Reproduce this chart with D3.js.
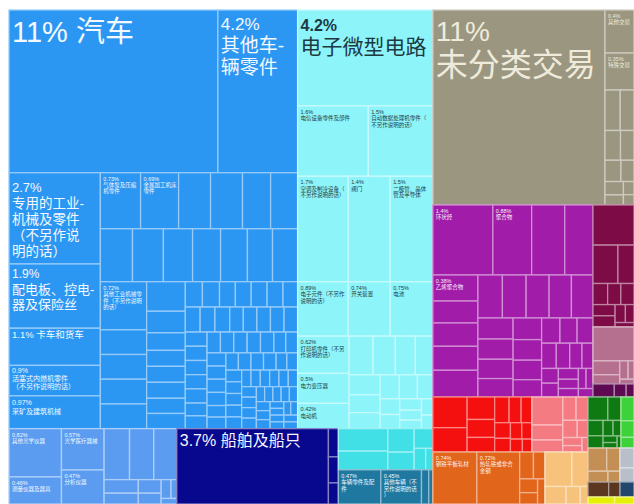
<!DOCTYPE html>
<html><head><meta charset="utf-8">
<script src="https://cdn.jsdelivr.net/npm/d3@7"></script>
<style>html,body{margin:0;padding:0;background:#fff;}svg{display:block;}</style>
</head><body>
<script>
// ---------- data: share of exports (%) ----------
const autoTop   = [["汽车", 11], ["其他车辆零件", 4.2]];
const machLeft  = [["专用的工业机械及零件", 2.7], ["配电板、控电器及保险丝", 1.9], ["卡车和货车", 1.1], ["活塞式内燃机零件", 0.9], ["采矿及建筑机械", 0.97]];
const machRowA  = [["气体泵及压缩机零件", 0.73], ["金属加工机床零件", 0.69], 0.58, 0.58, 0.51, 0.49];
const machRowB  = [0.55, 0.53, 0.5, 0.48, 0.46, 0.43, 0.43];
const machCol1  = [["其他工业机械零件（不另作说明的话）", 0.72], 0.37, 0.37, 0.37, 0.37];
const machCol2  = [0.37, 0.27, 0.22, 0.2, 0.2, 0.2, 0.19, 0.19];
const machSmall = [0.14,0.14,0.13,0.13,0.13,0.13,0.12,0.12, 0.12,0.12,0.11,0.11,0.11,0.11,0.11,0.10,
                   0.10,0.10,0.10,0.10,0.09,0.09,0.09,0.09, 0.09,0.09,0.09,0.08,0.08,0.08,0.08,0.08,
                   0.08,0.07,0.07,0.07,0.07,0.07,0.07,0.06, 0.06,0.06,0.06,0.06,0.06,0.06,0.05,0.05,
                   0.05,0.05,0.05,0.05,0.05,0.05,0.05,0.05, 0.04,0.04,0.04,0.04,0.04,0.04,0.04,0.04,
                   0.03,0.03,0.03,0.03,0.03,0.03,0.03,0.03];
const elecTop   = [["电子微型电路", 4.2]];
const elecRow2  = [["电信设备零件及部件", 1.61], ["自动数据处理机零件（不另作说明的话）", 1.47]];
const elecRow3  = [["空调及制冷设备（不另作说明的话）", 1.73], ["阀门", 1.43], ["二极管、晶体管及半导体", 1.46]];
const elecRow4  = [["电子元件（不另作说明的话）", 0.89], ["开关装置", 0.74], ["电池", 0.75]];
const elecRest  = [["打印机零件（不另作说明的话）", 0.62], ["电力变压器", 0.5], ["电动机", 0.42],
                   0.3,0.28,0.25,0.22,0.2,0.18,0.16,0.15,0.14,0.12,0.1,0.09,0.08,0.07,0.06,0.06,0.05];
const optCol1   = [["其他光学仪器", 0.82], ["测量仪器及器具", 0.46]];
const optCol2   = [["光学医疗器械", 0.57], ["分析仪器", 0.47]];
const optRest   = [0.42,0.4,0.38,0.15,0.12,0.1,0.08,0.06,0.035,0.028];
const shipMain  = [["船舶及船只", 3.7]];
const shipSmall = [0.091, 0.084, 0.068];
const turqVals  = [0.36,0.3,0.2,0.15,0.12,0.08,0.05];
const tealVals  = [["车辆零件及配件", 0.47], ["其他车辆（不另作说明的话）", 0.45], 0.08, 0.046];
const unclMain  = [["未分类交易", 10.86]];
const unclCol   = [["其他交易", 0.404], ["特殊交易", 0.348]];
const unclRest  = [0.2,0.18,0.15,0.13,0.11,0.09,0.08,0.06,0.045,0.035];
const chemTop   = [["环状烃", 1.36], ["聚合物", 0.88], 0.75, 0.64];
const chemLeft  = [["乙烯聚合物", 0.38], 0.32, 0.34, 0.35, 0.39];
const chemRest  = [0.34,0.33,0.32,0.31,0.3, 0.24,0.23,0.22,0.21,0.2,0.19,0.18,
                   0.16,0.15,0.14,0.13,0.12,0.11,0.1,0.09, 0.08,0.075,0.07,0.06,0.055,0.05,0.045,0.04];
const maroonVals= [0.533,0.31,0.2,0.1,0.09,0.09,0.08,0.08,0.06,0.05,0.027];
const mauveVals = [0.45,0.12,0.08,0.05,0.035,0.022];
const plumVals  = [0.09,0.05,0.033];
const redVals   = [0.34,0.27,0.2,0.16,0.13,0.12,0.1,0.09,0.08,0.07,0.06,0.054,0.05,0.04];
const salmonVals= [0.28,0.15,0.12,0.1,0.09,0.08,0.06,0.05,0.04,0.028];
const steelVals = [["钢铁平板轧材", 0.74], ["热轧铁或非合金钢", 0.72], 0.12,0.1,0.08,0.066,0.06];
const peachVals = [0.3,0.18,0.12,0.08,0.044];
const dGreenVals= [0.15,0.1,0.075,0.06,0.05,0.04,0.03,0.025,0.015];
const bGreenVals= [0.1,0.07,0.045];
const tanVals   = [0.14,0.1,0.07,0.042];
const brownVals = [0.1,0.055];
const lGrayVals = [0.09,0.064];
const nGrayVals = [0.068];
const yellowVals= [0.06,0.044];

// ---------- styles ----------
const palette = {
  blue:   {fill:"#2c97f3", text:"#f4f9ff"},
  cyan:   {fill:"#8df4fa", text:"#1d3a42"},
  lblue:  {fill:"#5b9cf0", text:"#f4f9ff"},
  navy:   {fill:"#08088e", text:"#f4f6ff"},
  turq:   {fill:"#40e0e6", text:"#1d3a42"},
  teal:   {fill:"#1f78a0", text:"#f4f9ff"},
  gray:   {fill:"#9b9680", text:"#eeebdc"},
  purple: {fill:"#a11ca8", text:"#fbeefc"},
  maroon: {fill:"#7d0b45", text:"#fff"},
  mauve:  {fill:"#b6708f", text:"#fff"},
  plum:   {fill:"#5e0a52", text:"#fff"},
  red:    {fill:"#f3100f", text:"#fff"},
  salmon: {fill:"#f47b82", text:"#fff"},
  orange: {fill:"#e2651c", text:"#fff4ea"},
  peach:  {fill:"#f6c27c", text:"#fff"},
  dgreen: {fill:"#0f7a12", text:"#fff"},
  bgreen: {fill:"#3dd13a", text:"#fff"},
  tan:    {fill:"#c48f55", text:"#fff"},
  brown:  {fill:"#5b3722", text:"#fff"},
  lgray:  {fill:"#b8bfca", text:"#fff"},
  ngray:  {fill:"#22466c", text:"#fff"},
  yellow: {fill:"#e6ef0a", text:"#333"}
};

const labelCfg = {
  "汽车": {inline:true, fs:29, y:[32]},
  "其他车辆零件": {pfs:17, fs:19, lines:["其他车-","辆零件"], y:[20,42,64]},
  "电子微型电路": {pfs:16, pw:"bold", fs:21, lines:["电子微型电路"], y:[21,44]},
  "未分类交易": {pfs:28, fs:32, lines:["未分类交易"], y:[31,66]},
  "船舶及船只": {inline:true, fs:16, y:[17]},
  "专用的工业机械及零件": {pfs:13, fs:13.5, lines:["专用的工业-","机械及零件","（不另作说","明的话）"], y:[19,35,51,67,83]},
  "配电板、控电器及保险丝": {pfs:12, fs:13, lines:["配电板、控电-","器及保险丝"], y:[14,30,45]},
  "卡车和货车": {inline:true, fs:9.5, y:[10]},
  "活塞式内燃机零件": {pfs:7, fs:7, lines:["活塞式内燃机零件","（不另作说明的话）"], y:[8,16,24]},
  "采矿及建筑机械": {pfs:7, fs:7, lines:["采矿及建筑机械"], y:[9,18]}
};

// ---------- hierarchy ----------
const leafs = arr => arr.map(d => Array.isArray(d) ? {name:d[0], value:d[1]} : {name:"", value:d});
const node = (tile, style, children) => ({tile, style, children});
const grp = (tile, style, arr) => node(tile, style, leafs(arr));

const tree = node("dice", null, [
  node("slice", null, [
    node("dice", null, [
      node("slice", "blue", [
        grp("dice", "blue", autoTop),
        node("dice", "blue", [
          grp("slice", "blue", machLeft),
          node("slice", "blue", [
            node("slice", "blue", [grp("dice", "blue", machRowA), grp("dice", "blue", machRowB)]),
            node("dice", "blue", [grp("slice", "blue", machCol1), grp("slice", "blue", machCol2), grp("squarify", "blue", machSmall)])
          ])
        ])
      ]),
      node("slice", "cyan", [
        grp("dice", "cyan", elecTop),
        grp("dice", "cyan", elecRow2),
        grp("dice", "cyan", elecRow3),
        grp("dice", "cyan", elecRow4),
        grp("squarify", "cyan", elecRest)
      ])
    ]),
    node("dice", null, [
      node("dice", "lblue", [grp("slice", "lblue", optCol1), grp("slice", "lblue", optCol2), grp("squarify", "lblue", optRest)]),
      node("dice", "navy", [grp("dice", "navy", shipMain), grp("slice", "navy", shipSmall)]),
      node("slice", null, [grp("squarify", "turq", turqVals), grp("dice", "teal", tealVals)])
    ])
  ]),
  node("slice", null, [
    node("dice", "gray", [
      grp("dice", "gray", unclMain),
      node("slice", "gray", [grp("slice", "gray", unclCol), grp("squarify", "gray", unclRest)])
    ]),
    node("dice", null, [
      node("slice", "purple", [
        grp("dice", "purple", chemTop),
        node("dice", "purple", [grp("slice", "purple", chemLeft), grp("squarify", "purple", chemRest)])
      ]),
      node("slice", null, [grp("squarify", "maroon", maroonVals), grp("squarify", "mauve", mauveVals), grp("squarify", "plum", plumVals)])
    ]),
    node("dice", null, [
      node("slice", null, [
        node("dice", null, [grp("squarify", "red", redVals), grp("squarify", "salmon", salmonVals)]),
        node("dice", null, [grp("squarify", "orange", steelVals), grp("squarify", "peach", peachVals)])
      ]),
      node("slice", null, [
        node("dice", null, [grp("squarify", "dgreen", dGreenVals), grp("slice", "bgreen", bGreenVals)]),
        node("dice", null, [
          node("slice", null, [grp("squarify", "tan", tanVals), grp("dice", "brown", brownVals)]),
          node("slice", null, [grp("slice", "lgray", lGrayVals), grp("dice", "ngray", nGrayVals)])
        ]),
        grp("dice", "yellow", yellowVals)
      ])
    ])
  ])
]);

function tile(n, x0, y0, x1, y1) {
  const t = n.data.tile;
  if (t === "dice") d3.treemapDice(n, x0, y0, x1, y1);
  else if (t === "slice") d3.treemapSlice(n, x0, y0, x1, y1);
  else d3.treemapSquarify(n, x0, y0, x1, y1);
}

const W = 634, H = 504, X0 = 9, Y0 = 10;
const root = d3.hierarchy(tree).sum(d => d.value || 0);
d3.treemap().size([W - X0, H - Y0]).tile(tile)(root);

const styleOf = n => { let p = n.parent; while (p && !p.data.style) p = p.parent; return palette[p.data.style]; };
const pct = v => d3.format(".2~r")(v) + "%";
const FONT = "'Liberation Sans','Noto Sans CJK SC',sans-serif";

const svg = d3.select("body").append("svg").attr("width", W).attr("height", H);
const g = svg.append("g").attr("transform", `translate(${X0},${Y0})`);
const leaves = root.leaves();

g.selectAll("rect").data(leaves).join("rect")
  .attr("x", d => d.x0).attr("y", d => d.y0)
  .attr("width", d => Math.max(0, d.x1 - d.x0)).attr("height", d => Math.max(0, d.y1 - d.y0))
  .attr("fill", d => styleOf(d).fill)
  .attr("stroke", d => d3.interpolateRgb(styleOf(d).fill, "#ffffff")(0.5))
  .attr("stroke-width", 1.3);

const wrap = (s, n) => { const out = []; for (let i = 0; i < s.length; i += n) out.push(s.slice(i, i + n)); return out.slice(0, 3); };

const addLine = (x, y, fs, txt, color, weight) =>
  g.append("text").attr("x", x).attr("y", y).attr("font-family", FONT)
    .attr("font-size", fs).attr("font-weight", weight || "normal").attr("fill", color).text(txt);

leaves.filter(d => d.data.name).forEach(d => {
  const st = styleOf(d), name = d.data.name, v = d.data.value;
  const cfg = labelCfg[name];
  const x = d.x0 + 3;
  if (cfg && cfg.inline) { addLine(x, d.y0 + cfg.y[0], cfg.fs, pct(v) + " " + name, st.text); return; }
  let c = cfg;
  if (!c) {
    const w = d.x1 - d.x0;
    const lines = wrap(name, Math.max(3, Math.floor((w - 5) / 5.5)));
    c = {pfs:5.5, fs:5.5, lines, y: d3.range(lines.length + 1).map(i => 8 + i * 6.4)};
  }
  addLine(x, d.y0 + c.y[0], c.pfs, pct(v), st.text, c.pw);
  c.lines.forEach((ln, i) => addLine(x, d.y0 + c.y[i + 1], c.fs, ln, st.text));
});
</script>
</body></html>
